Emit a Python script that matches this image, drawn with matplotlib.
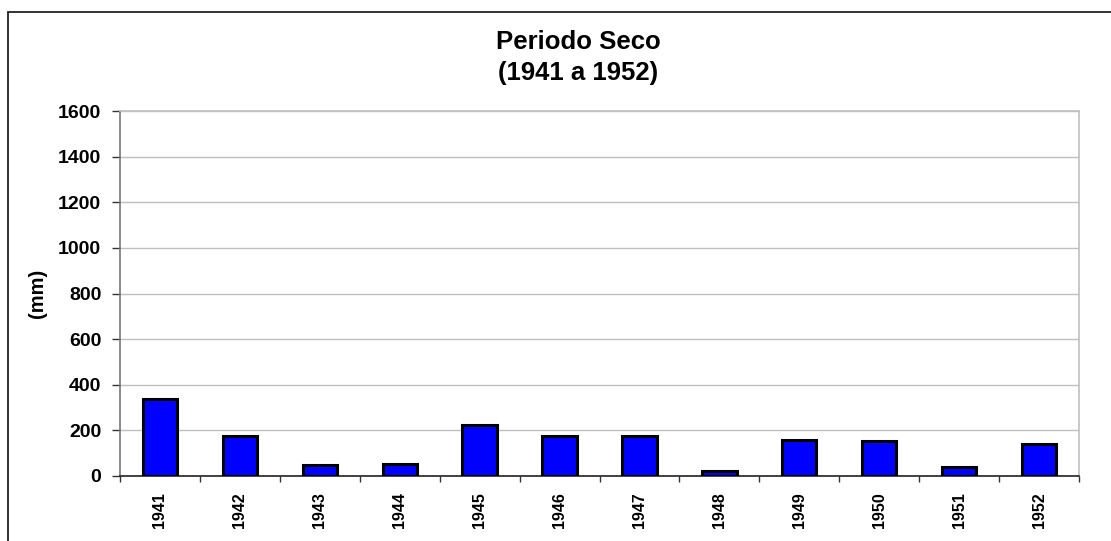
import matplotlib
matplotlib.use('Agg')
import matplotlib.pyplot as plt
from matplotlib.patches import Rectangle
import numpy as np

# dry period rainfall
years = ['1941', '1942', '1943', '1944', '1945', '1946',
         '1947', '1948', '1949', '1950', '1951', '1952']
rain_mm = [337, 175, 47, 53, 224, 175, 175, 20, 160, 154, 40, 141]
y_ticks = [0, 200, 400, 600, 800, 1000, 1200, 1400, 1600]

plt.rcParams['font.family'] = ['Liberation Sans', 'DejaVu Sans']

W, H = 1111, 541
fig = plt.figure(figsize=(W / 100, H / 100), dpi=100)
fig.patch.set_facecolor('white')

# chart-area border (runs off the right and bottom of the image)
fig.add_artist(Rectangle((8 / W, -0.2), 1.5, 0.2 + (H - 12) / H,
                         transform=fig.transFigure, fill=False,
                         ec='#222222', lw=1.3))

ax = fig.add_axes((120 / W, (H - 476) / H, (1079 - 120) / W, (476 - 111) / H))
x = np.arange(len(years))
ax.bar(x, rain_mm, width=0.43, color='#0000ff', edgecolor='black',
       linewidth=2.2, zorder=3)

ax.set_xlim(-0.5, len(years) - 0.5)
ax.set_ylim(0, 1600)
ax.set_yticks(y_ticks)
ax.set_yticklabels([str(v) for v in y_ticks], fontsize=14, fontweight='bold')
ax.yaxis.grid(True, color='#c0c0c0', lw=1, zorder=0)
ax.tick_params(axis='y', length=6, width=1, color='#333333', pad=7.5)

# ticks between categories, labels on the centres
ax.set_xticks(np.arange(-0.5, len(years)), minor=False)
ax.set_xticklabels([])
ax.set_xticks(x, minor=True)
ax.set_xticklabels(years, minor=True, rotation=90, fontsize=11.5,
                   fontweight='bold', va='top')
ax.tick_params(axis='x', which='major', length=4, width=1, color='#333333')
ax.tick_params(axis='x', which='minor', length=0, pad=11.5)

ax.spines['left'].set_color('#777777')
ax.spines['bottom'].set_color('#222222')
ax.spines['top'].set_color('#c0c0c0')
ax.spines['right'].set_color('#c0c0c0')
for s in ax.spines.values():
    s.set_linewidth(1.2)

fig.text(578 / W, 1 - 49 / H, 'Periodo Seco', ha='center', va='baseline',
         fontsize=18.5, fontweight='bold')
fig.text(578 / W, 1 - 80 / H, '(1941 a 1952)', ha='center', va='baseline',
         fontsize=18.5, fontweight='bold')
fig.text(37 / W, 1 - 293 / H, '(mm)', rotation=90, ha='center', va='center',
         fontsize=14.5, fontweight='bold')

fig.savefig('out.png', dpi=100)
